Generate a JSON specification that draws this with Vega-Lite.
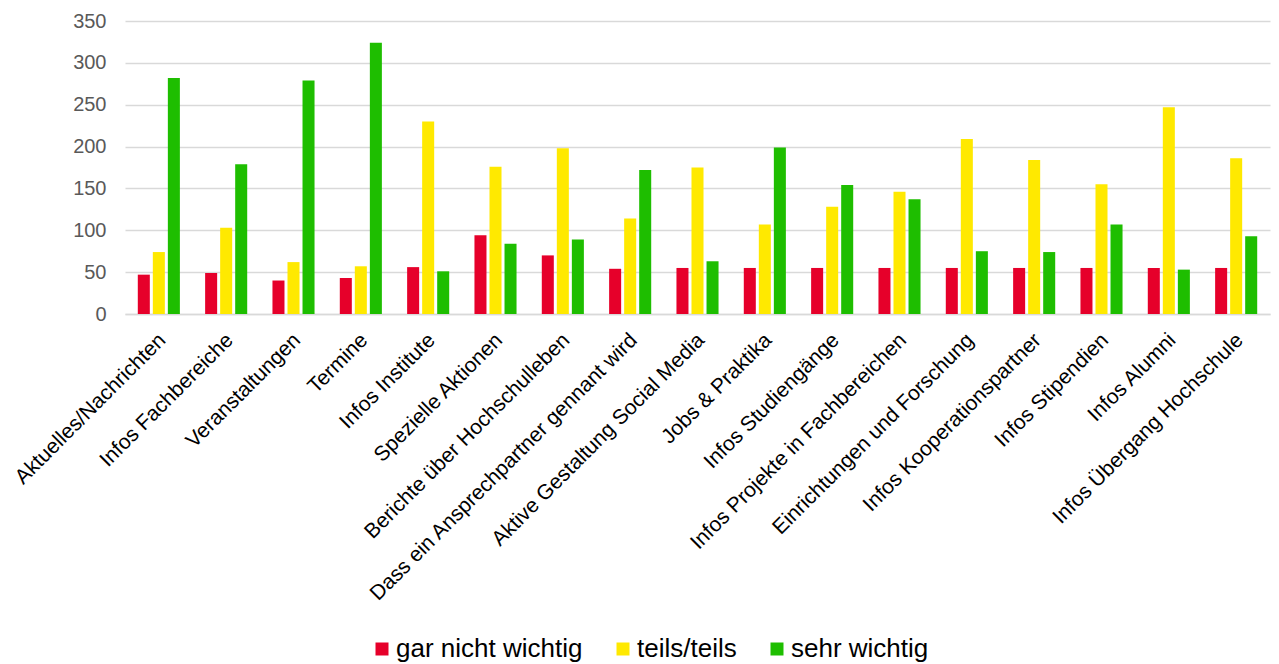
{
  "$schema": "https://vega.github.io/schema/vega-lite/v6.json",
  "width": 1145,
  "height": 293,
  "autosize": {"type": "none"},
  "padding": {"left": 125, "top": 21, "right": 9, "bottom": 350},
  "background": "white",
  "config": {
    "font": "Liberation Sans",
    "view": {"stroke": null},
    "axis": {"labelFont": "Liberation Sans"},
    "legend": {"labelFont": "Liberation Sans"}
  },
  "data": {
    "values": [
      {"kategorie": "Aktuelles/Nachrichten", "bewertung": "gar nicht wichtig", "anzahl": 47},
      {"kategorie": "Aktuelles/Nachrichten", "bewertung": "teils/teils", "anzahl": 74},
      {"kategorie": "Aktuelles/Nachrichten", "bewertung": "sehr wichtig", "anzahl": 282},
      {"kategorie": "Infos Fachbereiche", "bewertung": "gar nicht wichtig", "anzahl": 49},
      {"kategorie": "Infos Fachbereiche", "bewertung": "teils/teils", "anzahl": 103},
      {"kategorie": "Infos Fachbereiche", "bewertung": "sehr wichtig", "anzahl": 179},
      {"kategorie": "Veranstaltungen", "bewertung": "gar nicht wichtig", "anzahl": 40},
      {"kategorie": "Veranstaltungen", "bewertung": "teils/teils", "anzahl": 62},
      {"kategorie": "Veranstaltungen", "bewertung": "sehr wichtig", "anzahl": 279},
      {"kategorie": "Termine", "bewertung": "gar nicht wichtig", "anzahl": 43},
      {"kategorie": "Termine", "bewertung": "teils/teils", "anzahl": 57},
      {"kategorie": "Termine", "bewertung": "sehr wichtig", "anzahl": 324},
      {"kategorie": "Infos Institute", "bewertung": "gar nicht wichtig", "anzahl": 56},
      {"kategorie": "Infos Institute", "bewertung": "teils/teils", "anzahl": 230},
      {"kategorie": "Infos Institute", "bewertung": "sehr wichtig", "anzahl": 51},
      {"kategorie": "Spezielle Aktionen", "bewertung": "gar nicht wichtig", "anzahl": 94},
      {"kategorie": "Spezielle Aktionen", "bewertung": "teils/teils", "anzahl": 176},
      {"kategorie": "Spezielle Aktionen", "bewertung": "sehr wichtig", "anzahl": 84},
      {"kategorie": "Berichte über Hochschulleben", "bewertung": "gar nicht wichtig", "anzahl": 70},
      {"kategorie": "Berichte über Hochschulleben", "bewertung": "teils/teils", "anzahl": 198},
      {"kategorie": "Berichte über Hochschulleben", "bewertung": "sehr wichtig", "anzahl": 89},
      {"kategorie": "Dass ein Ansprechpartner gennant wird", "bewertung": "gar nicht wichtig", "anzahl": 54},
      {"kategorie": "Dass ein Ansprechpartner gennant wird", "bewertung": "teils/teils", "anzahl": 114},
      {"kategorie": "Dass ein Ansprechpartner gennant wird", "bewertung": "sehr wichtig", "anzahl": 172},
      {"kategorie": "Aktive Gestaltung Social Media", "bewertung": "gar nicht wichtig", "anzahl": 55},
      {"kategorie": "Aktive Gestaltung Social Media", "bewertung": "teils/teils", "anzahl": 175},
      {"kategorie": "Aktive Gestaltung Social Media", "bewertung": "sehr wichtig", "anzahl": 63},
      {"kategorie": "Jobs & Praktika", "bewertung": "gar nicht wichtig", "anzahl": 55},
      {"kategorie": "Jobs & Praktika", "bewertung": "teils/teils", "anzahl": 107},
      {"kategorie": "Jobs & Praktika", "bewertung": "sehr wichtig", "anzahl": 199},
      {"kategorie": "Infos Studiengänge", "bewertung": "gar nicht wichtig", "anzahl": 55},
      {"kategorie": "Infos Studiengänge", "bewertung": "teils/teils", "anzahl": 128},
      {"kategorie": "Infos Studiengänge", "bewertung": "sehr wichtig", "anzahl": 154},
      {"kategorie": "Infos Projekte in Fachbereichen", "bewertung": "gar nicht wichtig", "anzahl": 55},
      {"kategorie": "Infos Projekte in Fachbereichen", "bewertung": "teils/teils", "anzahl": 146},
      {"kategorie": "Infos Projekte in Fachbereichen", "bewertung": "sehr wichtig", "anzahl": 137},
      {"kategorie": "Einrichtungen und Forschung", "bewertung": "gar nicht wichtig", "anzahl": 55},
      {"kategorie": "Einrichtungen und Forschung", "bewertung": "teils/teils", "anzahl": 209},
      {"kategorie": "Einrichtungen und Forschung", "bewertung": "sehr wichtig", "anzahl": 75},
      {"kategorie": "Infos Kooperationspartner", "bewertung": "gar nicht wichtig", "anzahl": 55},
      {"kategorie": "Infos Kooperationspartner", "bewertung": "teils/teils", "anzahl": 184},
      {"kategorie": "Infos Kooperationspartner", "bewertung": "sehr wichtig", "anzahl": 74},
      {"kategorie": "Infos Stipendien", "bewertung": "gar nicht wichtig", "anzahl": 55},
      {"kategorie": "Infos Stipendien", "bewertung": "teils/teils", "anzahl": 155},
      {"kategorie": "Infos Stipendien", "bewertung": "sehr wichtig", "anzahl": 107},
      {"kategorie": "Infos Alumni", "bewertung": "gar nicht wichtig", "anzahl": 55},
      {"kategorie": "Infos Alumni", "bewertung": "teils/teils", "anzahl": 247},
      {"kategorie": "Infos Alumni", "bewertung": "sehr wichtig", "anzahl": 53},
      {"kategorie": "Infos Übergang Hochschule", "bewertung": "gar nicht wichtig", "anzahl": 55},
      {"kategorie": "Infos Übergang Hochschule", "bewertung": "teils/teils", "anzahl": 186},
      {"kategorie": "Infos Übergang Hochschule", "bewertung": "sehr wichtig", "anzahl": 93}
    ]
  },
  "mark": {"type": "bar"},
  "encoding": {
    "x": {
      "field": "kategorie",
      "type": "nominal",
      "sort": null,
      "scale": {"paddingInner": 0.375, "paddingOuter": 0.19},
      "axis": {
        "title": null,
        "labelAngle": -45,
        "labelFontSize": 21,
        "labelColor": "#000000",
        "labelPadding": 15,
        "labelOffset": -4,
        "labelLimit": 500,
        "ticks": false,
        "domainColor": "#D9D9D9",
        "domainWidth": 1.5
      }
    },
    "xOffset": {
      "field": "bewertung",
      "type": "nominal",
      "sort": ["gar nicht wichtig", "teils/teils", "sehr wichtig"],
      "scale": {"paddingInner": 0.2, "paddingOuter": 0}
    },
    "y": {
      "field": "anzahl",
      "type": "quantitative",
      "scale": {"domain": [0, 350], "nice": false},
      "axis": {
        "title": null,
        "values": [0, 50, 100, 150, 200, 250, 300, 350],
        "labelFontSize": 20,
        "labelColor": "#595959",
        "labelPadding": 19,
        "ticks": false,
        "domain": false,
        "gridColor": "#D9D9D9",
        "gridWidth": 1.5
      }
    },
    "color": {
      "field": "bewertung",
      "type": "nominal",
      "sort": ["gar nicht wichtig", "teils/teils", "sehr wichtig"],
      "scale": {
        "domain": ["gar nicht wichtig", "teils/teils", "sehr wichtig"],
        "range": ["#E6002A", "#FFE900", "#1EBE00"]
      },
      "legend": {
        "title": null,
        "orient": "none",
        "direction": "horizontal",
        "legendX": 244,
        "legendY": 615,
        "symbolType": "square",
        "symbolSize": 169,
        "symbolStrokeWidth": 0,
        "labelFontSize": 26,
        "labelLimit": 400,
        "labelColor": "#000000",
        "labelOffset": 1,
        "columnPadding": 27
      }
    }
  }
}
